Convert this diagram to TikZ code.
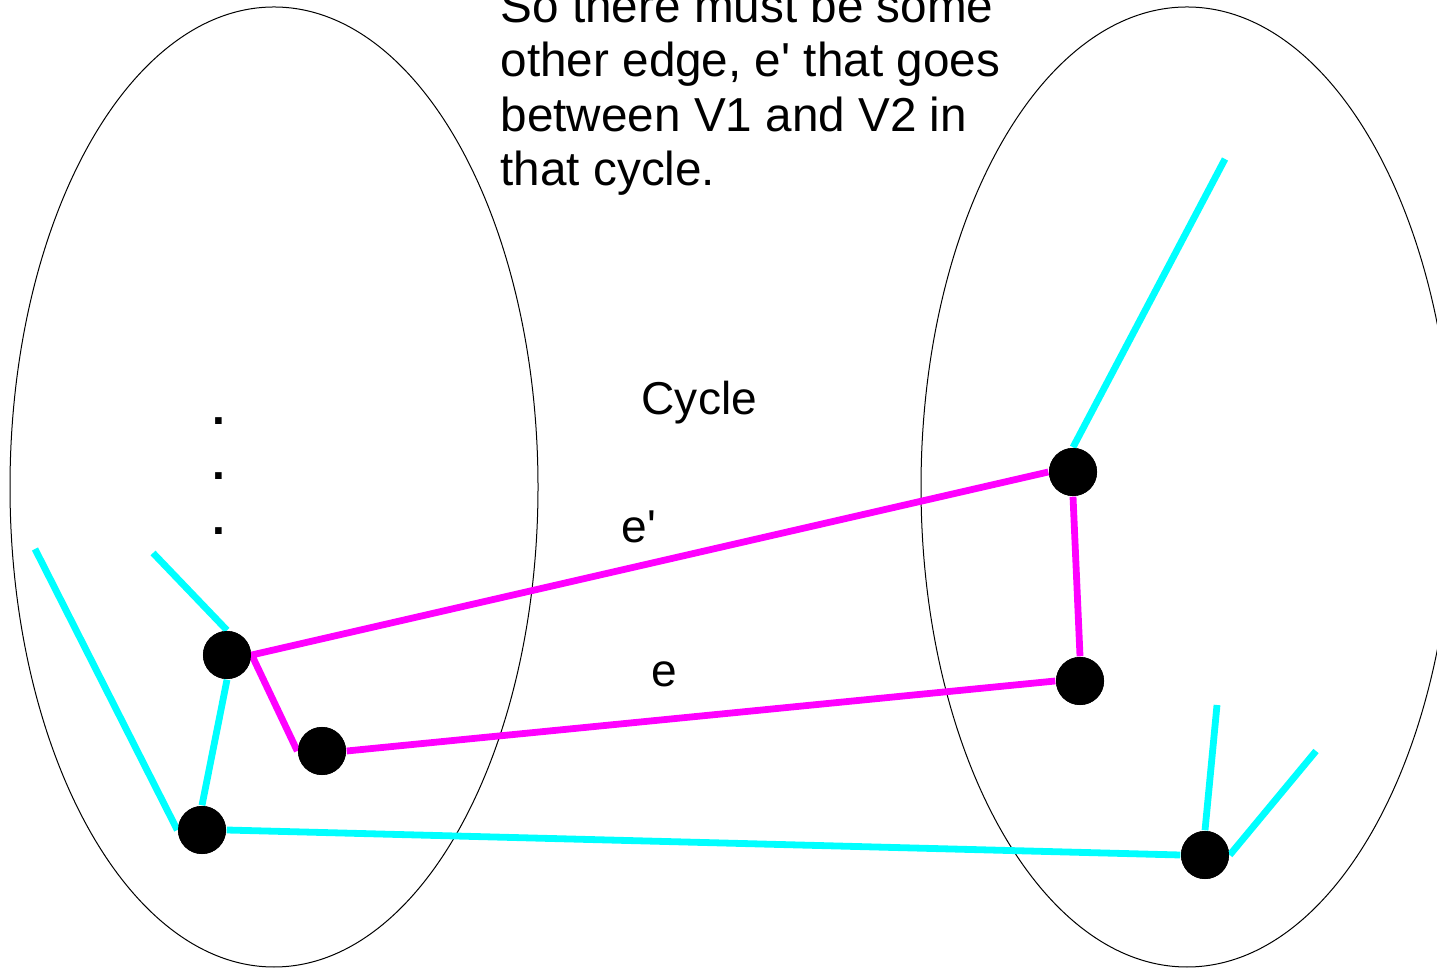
\documentclass[tikz,border=0pt]{standalone}
\usepackage{fontspec}
\setmainfont{Liberation Sans}[Ligatures=TeXOff]
\definecolor{cyanline}{RGB}{0,255,255}
\definecolor{magline}{RGB}{255,0,255}
\begin{document}
\begin{tikzpicture}[x=0.01cm,y=-0.01cm,
  vtx/.style={circle,fill=black,inner sep=0pt,minimum size=0.48cm},
  cyanedge/.style={draw=cyanline,line width=0.068cm},
  magedge/.style={draw=magline,line width=0.068cm},
  blob/.style={draw=black,line width=0.01cm},
  lbl/.style={inner sep=0pt,font=\fontsize{13.1pt}{15.5pt}\selectfont}]
\useasboundingbox (0,0) rectangle (1437,968);
% sets
\draw[blob] (274,487) ellipse [x radius=264, y radius=-480];
\draw[blob] (1187,487) ellipse [x radius=266, y radius=-480];
% vertices
\node[vtx] (A) at (227,655) {};
\node[vtx] (B) at (322,751) {};
\node[vtx] (C) at (202,830) {};
\node[vtx] (D) at (1073,472) {};
\node[vtx] (E) at (1080,681) {};
\node[vtx] (F) at (1205,855) {};
% free ends
\coordinate (c1) at (35,549);
\coordinate (c2) at (153,553);
\coordinate (c3) at (1225,159);
\coordinate (c4) at (1217,705);
\coordinate (c5) at (1316,751);
% cyan edges
\draw[cyanedge] (c1) -- (C.west);
\draw[cyanedge] (c2) -- (A.north);
\draw[cyanedge] (A.south) -- (C.north);
\draw[cyanedge] (C.east) -- (F.west);
\draw[cyanedge] (c3) -- (D.north);
\draw[cyanedge] (c4) -- (F.north);
\draw[cyanedge] (c5) -- (F.east);
% magenta cycle
\draw[magedge] (D.west) -- (A.east) -- (B.west);
\draw[magedge] (B.east) -- (E.west);
\draw[magedge] (D.south) -- (E.north);
% redraw vertices on top
\foreach \v in {A,B,C,D,E,F} \fill[black] (\v) circle (0.24cm);
% labels
\node[lbl,anchor=base west,align=left,font=\fontsize{13.55pt}{15.5pt}\selectfont] (txt) at (500,186)
  {So there must be some\\other edge, e' that goes\\between V1 and V2 in\\that cycle.};
\node[lbl,anchor=base west] (cyc) at (641,415) {Cycle};
\node[lbl,anchor=base west] (ep) at (621,543) {e'};
\node[lbl,anchor=base west] (e) at (651,687) {e};
\node[lbl,anchor=base west,align=left,font=\bfseries\fontsize{13.1pt}{15.65pt}\selectfont] (dots) at (212,535) {.\\.\\.};
\end{tikzpicture}
\end{document}
